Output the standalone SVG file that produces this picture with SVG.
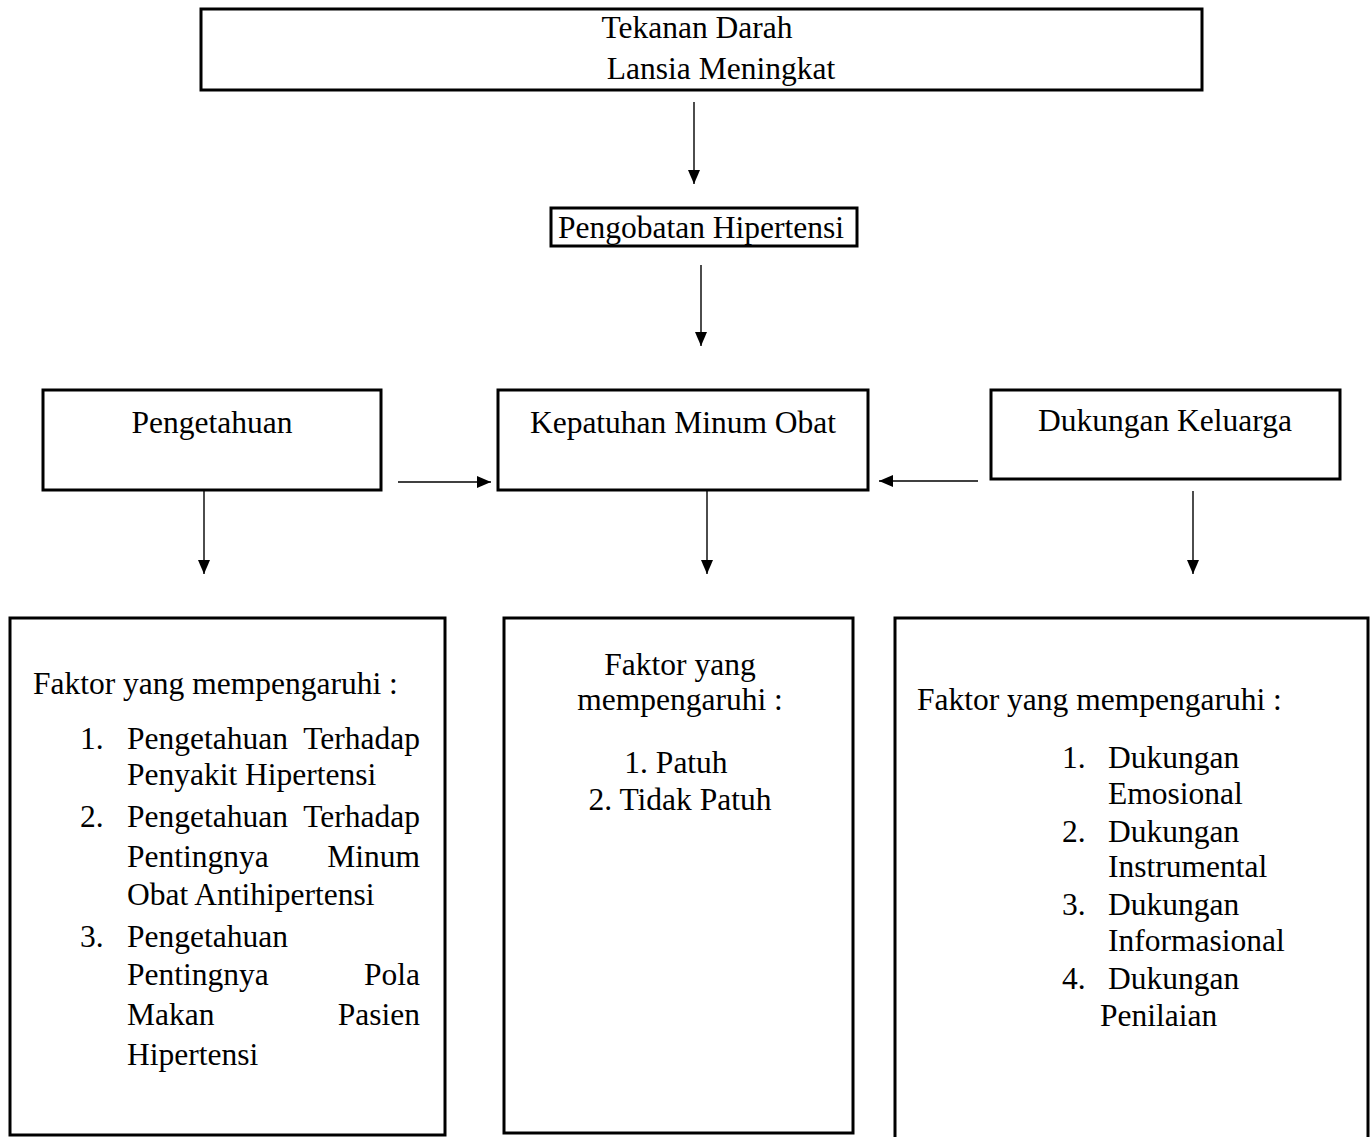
<svg xmlns="http://www.w3.org/2000/svg" width="1371" height="1137" viewBox="0 0 1371 1137">
<style>
.box{fill:#fff;stroke:#000;stroke-width:3}
.t{font-family:"Liberation Serif","Times New Roman",serif;font-size:31.5px;fill:#000}
.c{text-anchor:middle}
.e{text-anchor:end}
.ln{stroke:#000;stroke-width:1.4;fill:none}
</style>
<defs>
<marker id="ah" viewBox="0 0 14 12" refX="14" refY="6" markerWidth="14" markerHeight="12" markerUnits="userSpaceOnUse" orient="auto">
<path d="M0,0 L14,6 L0,12 Z" fill="#000"/>
</marker>
</defs>
<rect width="1371" height="1137" fill="#fff"/>
<g id="connectors">
<line class="ln" x1="694" y1="102" x2="694" y2="184" marker-end="url(#ah)"/>
<line class="ln" x1="701" y1="265" x2="701" y2="346" marker-end="url(#ah)"/>
<line class="ln" x1="398" y1="482" x2="491" y2="482" marker-end="url(#ah)"/>
<line class="ln" x1="978" y1="481" x2="879" y2="481" marker-end="url(#ah)"/>
<line class="ln" x1="204" y1="491" x2="204" y2="574" marker-end="url(#ah)"/>
<line class="ln" x1="707" y1="491" x2="707" y2="574" marker-end="url(#ah)"/>
<line class="ln" x1="1193" y1="491" x2="1193" y2="574" marker-end="url(#ah)"/>
</g>
<g id="tekanan">
<rect class="box" x="201" y="9" width="1001" height="81"/>
<text class="t c" x="697" y="38">Tekanan Darah</text>
<text class="t c" x="721" y="79">Lansia Meningkat</text>
</g>
<g id="pengobatan">
<rect class="box" x="551" y="208" width="306" height="38" stroke-width="2.5"/>
<text class="t c" x="701" y="238">Pengobatan Hipertensi</text>
</g>
<g id="pengetahuan">
<rect class="box" x="43" y="390" width="338" height="100"/>
<text class="t c" x="212" y="433">Pengetahuan</text>
</g>
<g id="kepatuhan">
<rect class="box" x="498" y="390" width="370" height="100"/>
<text class="t c" x="683" y="433">Kepatuhan Minum Obat</text>
</g>
<g id="dukungan">
<rect class="box" x="991" y="390" width="349" height="89"/>
<text class="t c" x="1165" y="431">Dukungan Keluarga</text>
</g>
<g id="faktor-pengetahuan">
<rect class="box" x="10" y="618" width="435" height="517"/>
<text class="t" x="33" y="694">Faktor yang mempengaruhi :</text>
<text class="t" x="80" y="749">1.</text>
<text class="t" x="127" y="749">Pengetahuan</text>
<text class="t e" x="420" y="749">Terhadap</text>
<text class="t" x="127" y="785">Penyakit Hipertensi</text>
<text class="t" x="80" y="827">2.</text>
<text class="t" x="127" y="827">Pengetahuan</text>
<text class="t e" x="420" y="827">Terhadap</text>
<text class="t" x="127" y="867">Pentingnya</text>
<text class="t e" x="420" y="867">Minum</text>
<text class="t" x="127" y="905">Obat Antihipertensi</text>
<text class="t" x="80" y="947">3.</text>
<text class="t" x="127" y="947">Pengetahuan</text>
<text class="t" x="127" y="985">Pentingnya</text>
<text class="t e" x="420" y="985">Pola</text>
<text class="t" x="127" y="1025">Makan</text>
<text class="t e" x="420" y="1025">Pasien</text>
<text class="t" x="127" y="1065">Hipertensi</text>
</g>
<g id="faktor-kepatuhan">
<rect class="box" x="504" y="618" width="349" height="515"/>
<text class="t c" x="680" y="675">Faktor yang</text>
<text class="t c" x="680" y="710">mempengaruhi :</text>
<text class="t c" x="676" y="773">1. Patuh</text>
<text class="t c" x="680" y="810">2. Tidak Patuh</text>
</g>
<g id="faktor-dukungan">
<rect class="box" x="895" y="618" width="473" height="530"/>
<text class="t" x="917" y="710">Faktor yang mempengaruhi :</text>
<text class="t" x="1062" y="768">1.</text>
<text class="t" x="1108" y="768">Dukungan</text>
<text class="t" x="1108" y="804">Emosional</text>
<text class="t" x="1062" y="842">2.</text>
<text class="t" x="1108" y="842">Dukungan</text>
<text class="t" x="1108" y="877">Instrumental</text>
<text class="t" x="1062" y="915">3.</text>
<text class="t" x="1108" y="915">Dukungan</text>
<text class="t" x="1108" y="951">Informasional</text>
<text class="t" x="1062" y="989">4.</text>
<text class="t" x="1108" y="989">Dukungan</text>
<text class="t" x="1100" y="1026">Penilaian</text>
</g>
</svg>
